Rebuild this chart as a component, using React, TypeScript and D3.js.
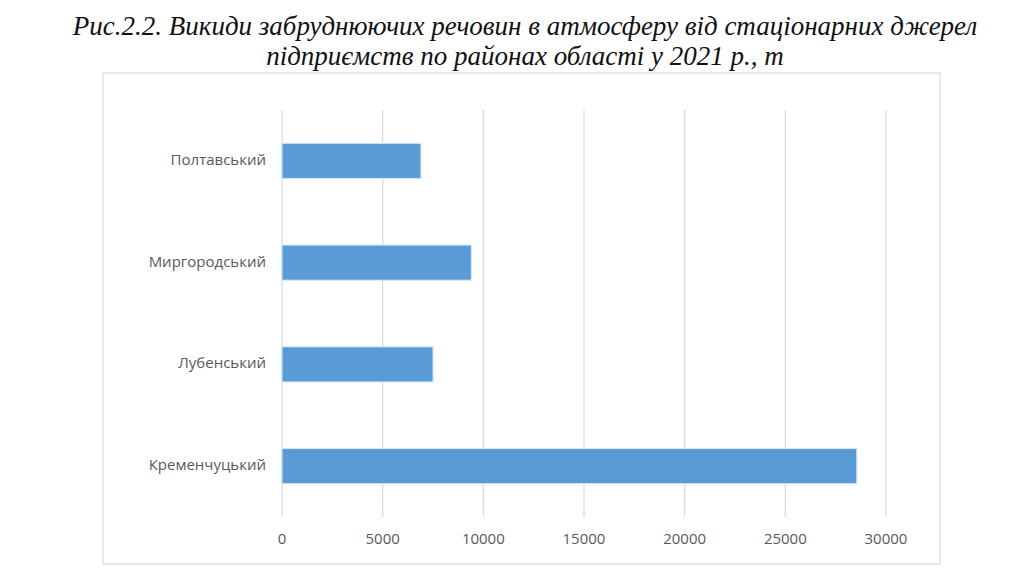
import { scaleBand, scaleLinear } from "d3";

const districts = ["Полтавський", "Миргородський", "Лубенський", "Кременчуцький"];
const emissions = [6900, 9400, 7500, 28550];
const xTicks = [0, 5000, 10000, 15000, 20000, 25000, 30000];
const titleLines = [
  "Рис.2.2. Викиди забруднюючих речовин в атмосферу від стаціонарних джерел",
  "підприємств по районах області у 2021 р., т"
];

const width = 1024;
const height = 576;
const frame = { x: 103, y: 73, w: 837, h: 491 };
const plot = { left: 282, right: 886, top: 110, bottom: 517 };

const barColor = "#5b9bd5";
const gridColor = "#d9d9d9";
const labelColor = "#595959";
const labelFont = "'Open Sans', 'Liberation Sans', sans-serif";

function App() {
  const x = scaleLinear().domain([0, 30000]).range([plot.left, plot.right]);
  const y = scaleBand<string>()
    .domain(districts)
    .range([plot.top, plot.bottom])
    .paddingInner(1.9 / 2.9)
    .paddingOuter(0.95 / 2.9);

  return (
    <div style={{ position: "absolute", left: 0, top: 0 }}>
      <svg width={width} height={height} style={{ display: "block", background: "#fff" }}>
        {titleLines.map((t, i) => (
          <text
            key={i}
            x={width / 2 + 13}
            y={35 + i * 30}
            textAnchor="middle"
            fontFamily="'Liberation Serif', 'Times New Roman', serif"
            fontStyle="italic"
            fontSize={27}
            fill="#111"
          >
            {t}
          </text>
        ))}
        <rect
          x={frame.x}
          y={frame.y}
          width={frame.w}
          height={frame.h}
          fill="none"
          stroke={gridColor}
          strokeWidth={1.2}
        />
        {xTicks.map((t) => (
          <g key={t}>
            <line
              x1={x(t)}
              x2={x(t)}
              y1={plot.top}
              y2={plot.bottom}
              stroke={gridColor}
              strokeWidth={1.2}
            />
            <text
              x={x(t)}
              y={544}
              textAnchor="middle"
              fontFamily={labelFont}
              fontSize={15}
              fill={labelColor}
            >
              {t}
            </text>
          </g>
        ))}
        {districts.map((d, i) => (
          <g key={d}>
            <rect
              x={x(0)}
              y={y(d) ?? 0}
              width={x(emissions[i]) - x(0)}
              height={y.bandwidth()}
              fill={barColor}
              stroke="#cfe6fb"
              strokeWidth={1}
            />
            <text
              x={x(0) - 16}
              y={(y(d) ?? 0) + y.bandwidth() / 2}
              textAnchor="end"
              dominantBaseline="middle"
              fontFamily={labelFont}
              fontSize={15}
              fill={labelColor}
            >
              {d}
            </text>
          </g>
        ))}
      </svg>
    </div>
  );
}

export default App;
